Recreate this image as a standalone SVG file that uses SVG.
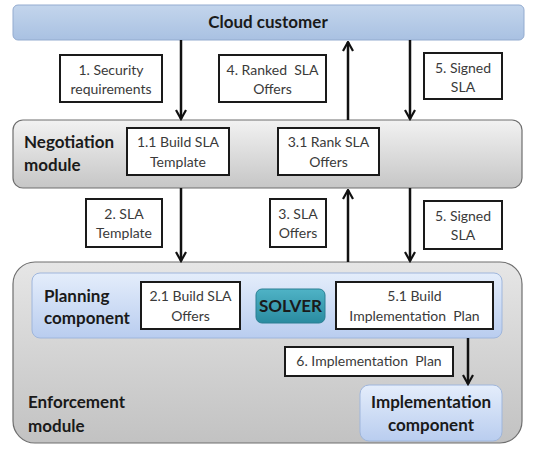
<svg xmlns="http://www.w3.org/2000/svg" width="537" height="452" viewBox="0 0 537 452">
<defs>
<linearGradient id="gGray" x1="0" y1="0" x2="0" y2="1"><stop offset="0" stop-color="#f2f2f2"/><stop offset="1" stop-color="#c6c6c6"/></linearGradient>
<linearGradient id="gEnf" x1="0" y1="0" x2="0" y2="1"><stop offset="0" stop-color="#e6e6e6"/><stop offset="1" stop-color="#c2c2c2"/></linearGradient>
<linearGradient id="gBlue" x1="0" y1="0" x2="0" y2="1"><stop offset="0" stop-color="#e4edfb"/><stop offset="1" stop-color="#b9cdef"/></linearGradient>
<linearGradient id="gCloud" x1="0" y1="0" x2="0" y2="1"><stop offset="0" stop-color="#c3d5ec"/><stop offset="1" stop-color="#a9c1e2"/></linearGradient>
<linearGradient id="gTeal" x1="0" y1="0" x2="0" y2="1"><stop offset="0" stop-color="#4fb3c6"/><stop offset="1" stop-color="#2a8ba0"/></linearGradient>
<marker id="arr" viewBox="0 0 12 12" refX="10.500" refY="6" markerWidth="12" markerHeight="12" markerUnits="userSpaceOnUse" orient="auto">
<path d="M1.500,1 L10.500,6 L1.500,11" fill="none" stroke="#111" stroke-width="2.200"/>
</marker>
</defs>
<style>
.lbl{fill:#fff;stroke:#1a1a1a;stroke-width:2}
.lt{font-family:Lato,"Liberation Sans",sans-serif;font-size:14px;fill:#3a3a3a;text-anchor:middle;white-space:pre}
.bt{font-family:Lato,"Liberation Sans",sans-serif;font-size:17px;font-weight:bold;fill:#1a1a1a}
.conn{stroke:#111;stroke-width:2.5;fill:none;marker-end:url(#arr)}
</style>
<rect width="537" height="452" fill="#fff"/>

<g id="cloud-customer">
<rect x="13" y="5" width="511" height="35" rx="5" fill="url(#gCloud)" stroke="#93abcf" stroke-width="1"/>
<text x="268" y="28" class="bt" text-anchor="middle" font-size="16">Cloud customer</text>
</g>

<g id="negotiation-module">
<rect x="13" y="120" width="509" height="68" rx="10" fill="url(#gGray)" stroke="#6e6e6e" stroke-width="1.2"/>
<text class="bt" x="24" y="148">Negotiation</text>
<text class="bt" x="24" y="171">module</text>
</g>

<g id="build-sla-template">
<rect class="lbl" x="127" y="128" width="102" height="47"/>
<text class="lt" x="178" y="147">1.1 Build SLA</text>
<text class="lt" x="178" y="167">Template</text>
</g>

<g id="rank-sla-offers">
<rect class="lbl" x="278" y="128" width="101" height="47"/>
<text class="lt" x="328.500" y="147">3.1 Rank SLA</text>
<text class="lt" x="328.500" y="167">Offers</text>
</g>

<g id="enforcement-module">
<rect x="13" y="262" width="509" height="181" rx="22" fill="url(#gEnf)" stroke="#6e6e6e" stroke-width="1.2"/>
<text class="bt" x="28" y="408">Enforcement</text>
<text class="bt" x="28" y="432">module</text>
</g>

<g id="planning-component">
<rect x="32" y="273" width="470" height="65" rx="8" fill="url(#gBlue)" stroke="#9fb6dc" stroke-width="1"/>
<text class="bt" x="44" y="302">Planning</text>
<text class="bt" x="44" y="324">component</text>
</g>

<g id="build-sla-offers">
<rect class="lbl" x="141" y="282" width="99" height="47"/>
<text class="lt" x="190.500" y="301">2.1 Build SLA</text>
<text class="lt" x="190.500" y="321">Offers</text>
</g>

<g id="solver">
<rect x="256" y="289" width="69" height="34" rx="6" fill="url(#gTeal)" stroke="#2a7f93" stroke-width="1"/>
<text class="bt" x="290.500" y="311.500" text-anchor="middle" font-size="16" fill="#14283a">SOLVER</text>
</g>

<g id="build-implementation-plan">
<rect class="lbl" x="336" y="282" width="157" height="47"/>
<text class="lt" x="414.500" y="301">5.1 Build</text>
<text class="lt" x="414.500" y="321">Implementation  Plan</text>
</g>

<g id="implementation-component">
<rect x="360" y="385" width="142" height="56" rx="9" fill="url(#gBlue)" stroke="#9fb6dc" stroke-width="1"/>
<text class="bt" x="431" y="408" text-anchor="middle">Implementation</text>
<text class="bt" x="431" y="431" text-anchor="middle">component</text>
</g>

<g id="connectors">
<line class="conn" x1="181" y1="40" x2="181" y2="119"/>
<line class="conn" x1="348" y1="120" x2="348" y2="42"/>
<line class="conn" x1="410" y1="40" x2="410" y2="119"/>
<line class="conn" x1="181" y1="188" x2="181" y2="261"/>
<line class="conn" x1="348" y1="262" x2="348" y2="190"/>
<line class="conn" x1="410" y1="188" x2="410" y2="261"/>
<line class="conn" x1="468" y1="338" x2="468" y2="384"/>

<g id="label-1">
<rect class="lbl" x="60" y="55" width="102" height="47"/>
<text class="lt" x="111" y="75">1. Security</text>
<text class="lt" x="111" y="94">requirements</text>
</g>
<g id="label-4">
<rect class="lbl" x="219" y="55" width="107" height="47"/>
<text class="lt" x="272.500" y="75">4. Ranked  SLA</text>
<text class="lt" x="272.500" y="94">Offers</text>
</g>
<g id="label-5a">
<rect class="lbl" x="424" y="53" width="78" height="46"/>
<text class="lt" x="463" y="73">5. Signed</text>
<text class="lt" x="463" y="92">SLA</text>
</g>
<g id="label-2">
<rect class="lbl" x="86" y="199" width="76" height="48"/>
<text class="lt" x="124" y="219">2. SLA</text>
<text class="lt" x="124" y="238">Template</text>
</g>
<g id="label-3">
<rect class="lbl" x="270" y="199" width="56" height="48"/>
<text class="lt" x="298" y="219">3. SLA</text>
<text class="lt" x="298" y="238">Offers</text>
</g>
<g id="label-5b">
<rect class="lbl" x="424" y="201" width="78" height="48"/>
<text class="lt" x="463" y="221">5. Signed</text>
<text class="lt" x="463" y="240">SLA</text>
</g>
<g id="label-6">
<rect class="lbl" x="285" y="347" width="168" height="29"/>
<text class="lt" x="369" y="366">6. Implementation  Plan</text>
</g>
</g>
</svg>
